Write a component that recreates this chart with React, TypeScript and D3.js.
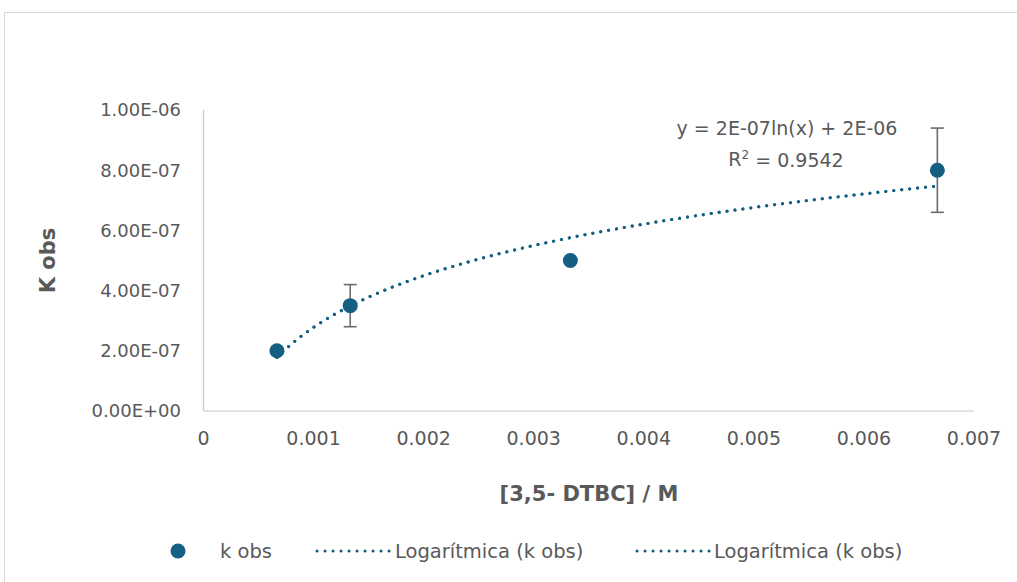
import { useEffect, useRef } from 'react'
import * as d3 from 'd3'

// [3,5-DTBC] (M) vs k obs
const concentrations = [0.000667, 0.001333, 0.003333, 0.006667]
const kObs = [2.0e-7, 3.5e-7, 5.0e-7, 8.0e-7]
const kErr = [0, 7.0e-8, 0, 1.4e-7]

const xTicks = [0, 0.001, 0.002, 0.003, 0.004, 0.005, 0.006, 0.007]
const xTickLabels = ['0', '0.001', '0.002', '0.003', '0.004', '0.005', '0.006', '0.007']
const yTicks = [0, 2e-7, 4e-7, 6e-7, 8e-7, 1e-6]
const yTickLabels = ['0.00E+00', '2.00E-07', '4.00E-07', '6.00E-07', '8.00E-07', '1.00E-06']

const legendLabels = ['k obs', 'Logarítmica (k obs)', 'Logarítmica (k obs)']
const equationLines = ['y = 2E-07ln(x) + 2E-06', 'R2 = 0.9542']

const BLUE = '#156082'
const TEXT = '#595959'
const FONT = '"DejaVu Sans", sans-serif'

const W = 1017
const H = 582

export default function App() {
  const ref = useRef<SVGSVGElement>(null)

  useEffect(() => {
    const svg = d3.select(ref.current)
    svg.selectAll('*').remove()

    // chart frame, runs off the right and bottom edge
    svg.append('rect')
      .attr('x', 4.5).attr('y', 12.5)
      .attr('width', W + 20).attr('height', H + 20)
      .attr('fill', '#fff').attr('stroke', '#d9d9d9')

    const x = d3.scaleLinear().domain([0, 0.007]).range([203.5, 974])
    const y = d3.scaleLinear().domain([0, 1e-6]).range([411, 110])

    // axis lines
    svg.append('line')
      .attr('x1', x(0)).attr('x2', x(0.007))
      .attr('y1', y(0)).attr('y2', y(0))
      .attr('stroke', '#c8c8c8').attr('stroke-width', 1.2)
    svg.append('line')
      .attr('x1', x(0)).attr('x2', x(0))
      .attr('y1', y(0)).attr('y2', y(1e-6))
      .attr('stroke', '#c8c8c8').attr('stroke-width', 1.2)

    svg.append('g').selectAll('text')
      .data(yTicks)
      .enter().append('text')
      .attr('x', 181)
      .attr('y', (d) => y(d))
      .attr('dy', '0.36em')
      .attr('text-anchor', 'end')
      .attr('font-family', FONT).attr('font-size', 18).attr('fill', TEXT)
      .text((d, i) => yTickLabels[i])

    svg.append('g').selectAll('text')
      .data(xTicks)
      .enter().append('text')
      .attr('x', (d) => x(d))
      .attr('y', 438)
      .attr('dy', '0.36em')
      .attr('text-anchor', 'middle')
      .attr('font-family', FONT).attr('font-size', 19).attr('fill', TEXT)
      .text((d, i) => xTickLabels[i])

    // axis titles
    svg.append('text')
      .attr('transform', `translate(47,${(y(0) + y(1e-6)) / 2}) rotate(-90)`)
      .attr('dy', '0.36em')
      .attr('text-anchor', 'middle')
      .attr('font-family', FONT).attr('font-size', 21).attr('font-weight', 'bold').attr('fill', TEXT)
      .text('K obs')
    svg.append('text')
      .attr('x', 589).attr('y', 493)
      .attr('dy', '0.36em')
      .attr('text-anchor', 'middle')
      .attr('font-family', FONT).attr('font-size', 21).attr('font-weight', 'bold').attr('fill', TEXT)
      .text('[3,5- DTBC] / M')

    // logarithmic least-squares fit, y = a ln(x) + b
    const lx = concentrations.map((c) => Math.log(c))
    const mx = d3.mean(lx) as number
    const my = d3.mean(kObs) as number
    const a = d3.sum(lx, (v, i) => (v - mx) * (kObs[i] - my)) / d3.sum(lx, (v) => (v - mx) ** 2)
    const b = my - a * mx
    const [x0, x1] = d3.extent(concentrations) as [number, number]
    const samples = d3.range(0, 101).map((i) => x0 + ((x1 - x0) * i) / 100)
    const line = d3.line<number>().x((d) => x(d)).y((d) => y(a * Math.log(d) + b))

    // two identical trendlines in the source
    svg.append('g').selectAll('path')
      .data([0, 1])
      .enter().append('path')
      .attr('d', line(samples))
      .attr('fill', 'none')
      .attr('stroke', BLUE)
      .attr('stroke-width', 3)
      .attr('stroke-linecap', 'round')
      .attr('stroke-dasharray', '0.1 7.9')

    // error bars
    const eb = svg.append('g').attr('stroke', '#6b6b6b').attr('stroke-width', 1.6)
    concentrations.forEach((c, i) => {
      if (!kErr[i]) return
      const cx = x(c)
      const top = y(kObs[i] + kErr[i])
      const bot = y(kObs[i] - kErr[i])
      eb.append('line').attr('x1', cx).attr('x2', cx).attr('y1', top).attr('y2', bot)
      eb.append('line').attr('x1', cx - 6.5).attr('x2', cx + 6.5).attr('y1', top).attr('y2', top)
      eb.append('line').attr('x1', cx - 6.5).attr('x2', cx + 6.5).attr('y1', bot).attr('y2', bot)
    })

    svg.append('g').selectAll('circle')
      .data(concentrations)
      .enter().append('circle')
      .attr('cx', (d) => x(d))
      .attr('cy', (d, i) => y(kObs[i]))
      .attr('r', 7.5)
      .attr('fill', BLUE)

    // trendline label
    const eq = svg.append('text')
      .attr('font-family', FONT).attr('font-size', 19).attr('fill', TEXT)
      .attr('text-anchor', 'middle')
    eq.append('tspan').attr('x', 787).attr('y', 128).attr('dy', '0.36em').text(equationLines[0])
    const r2 = svg.append('text')
      .attr('font-family', FONT).attr('font-size', 19).attr('fill', TEXT)
      .attr('text-anchor', 'middle')
      .attr('x', 786).attr('y', 159).attr('dy', '0.36em')
    r2.append('tspan').text('R')
    r2.append('tspan').attr('font-size', 12).attr('dy', '-0.6em').text('2')
    r2.append('tspan').attr('dy', '0.42em').text(' = 0.9542')

    // legend
    const ly = 551
    const lg = svg.append('g').attr('font-family', FONT).attr('font-size', 19.5).attr('fill', TEXT)
    lg.append('circle').attr('cx', 178).attr('cy', ly).attr('r', 7.5).attr('fill', BLUE)
    lg.append('text').attr('x', 220).attr('y', ly).attr('dy', '0.36em').text(legendLabels[0])
    const swatches = [[317, 391, 395], [637, 710, 714]]
    swatches.forEach(([s0, s1, tx], i) => {
      lg.append('line')
        .attr('x1', s0).attr('x2', s1).attr('y1', ly).attr('y2', ly)
        .attr('stroke', BLUE).attr('stroke-width', 3)
        .attr('stroke-linecap', 'round').attr('stroke-dasharray', '0.1 7.9')
      lg.append('text').attr('x', tx).attr('y', ly).attr('dy', '0.36em').text(legendLabels[i + 1])
    })
  }, [])

  return (
    <svg
      ref={ref}
      width={W}
      height={H}
      viewBox={`0 0 ${W} ${H}`}
      style={{ position: 'absolute', left: 0, top: 0, display: 'block', background: '#fff' }}
    />
  )
}
